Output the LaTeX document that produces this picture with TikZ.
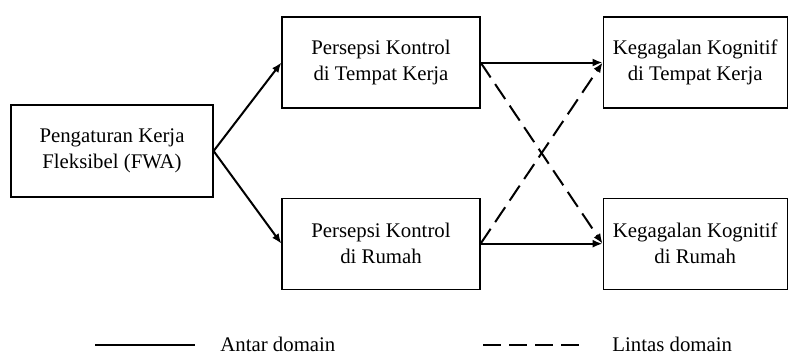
\documentclass[tikz,border=0pt]{standalone}
\usepackage{fontspec}
\setmainfont{Liberation Serif}
\usetikzlibrary{arrows.meta, positioning}

\begin{document}
\begin{tikzpicture}[
  box/.style={draw, line width=0.6pt, minimum height=45.5pt, align=center, inner sep=2pt, font=\fontsize{10.4}{13}\selectfont},
  arrow/.style={-{Latex[length=5pt, width=4pt]}, line width=1pt},
  cross/.style={arrow, dash pattern=on 9pt off 4pt},
  legend/.style={anchor=west, inner sep=0pt, font=\fontsize{10.4}{13}\selectfont},
]
\useasboundingbox (0,0) rectangle (396pt,-177.5pt);

% Boxes
\node[box, minimum width=101pt, minimum height=46pt] (fwa) at (56pt,-75.5pt) {Pengaturan Kerja\\Fleksibel (FWA)};
\node[box, minimum width=99pt] (pkwork) at (190.5pt,-31.25pt) {Persepsi Kontrol\\di Tempat Kerja};
\node[box, minimum width=99pt, below=44.5pt of pkwork] (pkhome) {Persepsi Kontrol\\di Rumah};
\node[box, minimum width=92pt, right=61pt of pkwork] (kkwork) {Kegagalan Kognitif\\di Tempat Kerja};
\node[box, minimum width=92pt, right=61pt of pkhome] (kkhome) {Kegagalan Kognitif\\di Rumah};

% Arrows
\draw[arrow] (fwa.east) -- (pkwork.west);
\draw[arrow] (fwa.east) -- (pkhome.west);
\draw[arrow] (pkwork.east) -- (kkwork.west);
\draw[arrow] (pkhome.east) -- (kkhome.west);
\draw[cross] (pkwork.east) -- (kkhome.west);
\draw[cross] (pkhome.east) -- (kkwork.west);

% Legend
\coordinate (solidA) at (47.5pt,-172.5pt);
\coordinate (solidB) at (97.5pt,-172.5pt);
\coordinate (dashA) at (241.5pt,-172.5pt);
\coordinate (dashB) at (291.5pt,-172.5pt);
\draw[line width=1pt] (solidA) -- (solidB);
\draw[line width=1pt, dash pattern=on 9pt off 4pt] (dashA) -- (dashB);
\node[legend] (antar) at (110pt,-172pt) {Antar domain};
\node[legend] (lintas) at (306pt,-172pt) {Lintas domain};

\end{tikzpicture}
\end{document}
